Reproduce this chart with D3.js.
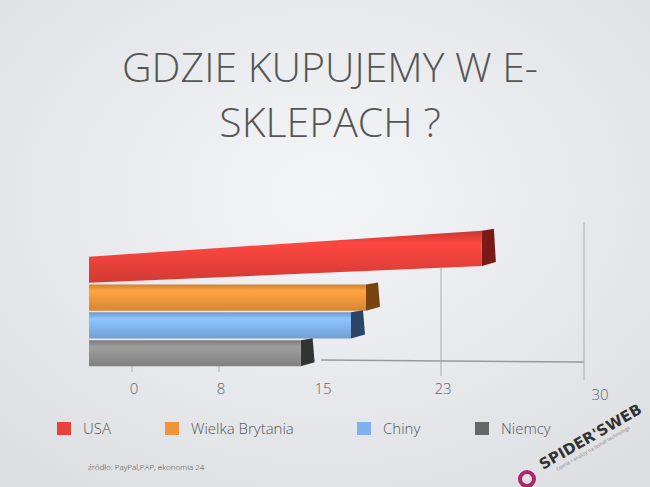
<!DOCTYPE html>
<html><head><meta charset="utf-8">
<script src="https://cdn.jsdelivr.net/npm/d3@7"></script>
<style>body{margin:0;}</style></head>
<body><svg id="c" width="650" height="487"></svg>
<script>
const countries = ['USA', 'Wielka Brytania', 'Chiny', 'Niemcy'];
const values = [25, 18, 17, 13.6];
const colors = ['#e8403a', '#f0943a', '#7fb1ea', '#8e8e8e'];
const sides = ['#7a1a16', '#7a4410', '#2c4466', '#333'];
const tickValues = [0, 8, 15, 23, 30];

const svg = d3.select('#c');
const defs = svg.append('defs');
const bg = defs.append('radialGradient').attr('id', 'bg').attr('cx', '50%').attr('cy', '40%').attr('r', '75%');
bg.append('stop').attr('offset', '0%').attr('stop-color', '#f4f5f7');
bg.append('stop').attr('offset', '100%').attr('stop-color', '#dcdee2');
svg.append('rect').attr('width', 650).attr('height', 487).attr('fill', 'url(#bg)');

svg.append('text').attr('x', 330).attr('y', 82).attr('text-anchor', 'middle')
  .style('font', '300 41px "Open Sans"').style('fill', '#555').text('GDZIE KUPUJEMY W E-');
svg.append('text').attr('x', 330).attr('y', 137).attr('text-anchor', 'middle')
  .style('font', '300 41px "Open Sans"').style('fill', '#555').text('SKLEPACH ?');

// perspective-ish axis: tick positions not evenly spaced
const x = d3.scaleLinear().domain(tickValues).range([132, 219, 321, 441, 584]);
const y = d3.scaleBand().domain(countries).range([255, 368]).padding(0.06);

// back grid
svg.append('line').attr('x1', x(15)).attr('x2', x(30)).attr('y1', 360).attr('y2', 362).attr('stroke', '#999').attr('stroke-width', 1.5);
[23, 30].forEach(v => svg.append('line').attr('x1', x(v)).attr('x2', x(v))
  .attr('y1', v === 30 ? 222 : 268).attr('y2', v === 30 ? 380 : 376).attr('stroke', '#aaa'));
[0, 8].forEach(v => svg.append('line').attr('x1', x(v)).attr('x2', x(v)).attr('y1', 366).attr('y2', 372).attr('stroke', '#aaa'));

countries.forEach((c, i) => {
  const g = defs.append('linearGradient').attr('id', 'g' + i).attr('x1', 0).attr('y1', 0).attr('x2', 0).attr('y2', 1);
  g.append('stop').attr('offset', '0%').attr('stop-color', d3.color(colors[i]).darker(0.4));
  g.append('stop').attr('offset', '25%').attr('stop-color', d3.color(colors[i]).brighter(0.3));
  g.append('stop').attr('offset', '100%').attr('stop-color', d3.color(colors[i]).darker(0.3));
});

const x0 = 89;
const slant = i => i === 0 ? 26 : 0; // top bar tilts upward in the 3D view
const bars = svg.selectAll('g.bar').data(countries).enter().append('g');
bars.append('path')
  .attr('d', (d, i) => {
    const xe = x(values[i]), y0 = y(d) - slant(i), h = y.bandwidth() + slant(i) * 0.35;
    return `M${xe},${y0} L${xe + 12},${y0 - 2} L${xe + 14},${y0 + h - 4} L${xe},${y0 + h} Z`;
  })
  .attr('fill', (d, i) => sides[i]);
bars.append('path')
  .attr('d', (d, i) => {
    const xe = x(values[i]), y0 = y(d), h = y.bandwidth(), s = slant(i);
    return `M${x0},${y0} L${xe},${y0 - s} L${xe},${y0 + h - s * 0.65} L${x0},${y0 + h} Z`;
  })
  .attr('fill', (d, i) => `url(#g${i})`);

svg.selectAll('text.tick').data(tickValues).enter().append('text')
  .attr('x', d => x(d) + (d === 30 ? 16 : 2)).attr('y', d => d === 30 ? 400 : 394)
  .attr('text-anchor', 'middle').style('font', '300 15px "Open Sans"').style('fill', '#666').text(d => d);

const lx = [57, 165, 357, 475];
countries.forEach((c, i) => {
  svg.append('rect').attr('x', lx[i]).attr('y', 422).attr('width', 14).attr('height', 13).attr('fill', colors[i] === '#8e8e8e' ? '#666' : colors[i]);
  svg.append('text').attr('x', lx[i] + 26).attr('y', 434).style('font', '300 15px "Open Sans"').style('fill', '#555').text(c);
});

svg.append('text').attr('x', 88).attr('y', 470).style('font', '300 8px "Open Sans"').style('fill', '#444').text('źródło: PayPal,PAP, ekonomia 24');

const logo = svg.append('g').attr('transform', 'translate(543,470) rotate(-30)');
logo.append('text').attr('x', 0).attr('y', 0).style('font', 'bold 15px "DejaVu Sans"').style('fill', '#333').text("SPIDER'SWEB");
logo.append('text').attr('x', 12).attr('y', 8).style('font', '5px "Open Sans"').style('fill', '#888').text('Opinie i analizy na temat technologii');
svg.append('circle').attr('cx', 527).attr('cy', 479).attr('r', 7).attr('fill', 'none').attr('stroke', '#b0246a').attr('stroke-width', 4);
</script></body></html>
